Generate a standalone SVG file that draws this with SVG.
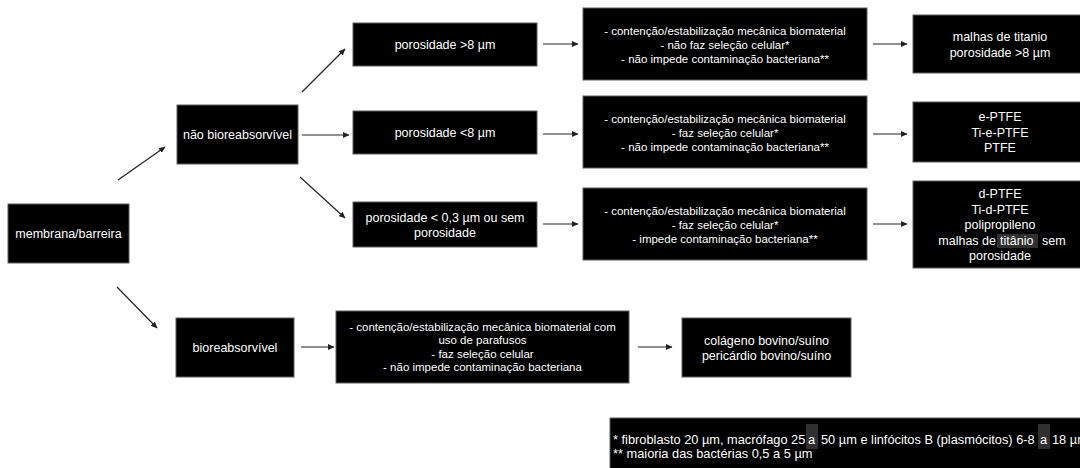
<svg xmlns="http://www.w3.org/2000/svg" width="1080" height="468" viewBox="0 0 1080 468">
<defs>
<marker id="ah" markerUnits="userSpaceOnUse" markerWidth="7" markerHeight="6" refX="6" refY="3" orient="auto">
<path d="M0,0 L6.5,3 L0,6 z" fill="#222"/>
</marker>
<style>
.box{fill:#000;stroke:#5e5e5e;stroke-width:1}
.t{font-family:"Liberation Sans",Arial,sans-serif;font-size:12.5px;fill:#fff;text-anchor:middle;dominant-baseline:central}
.s{font-family:"Liberation Sans",Arial,sans-serif;font-size:11.5px;fill:#fff;text-anchor:middle;dominant-baseline:central}
.f{font-family:"Liberation Sans",Arial,sans-serif;font-size:12.8px;fill:#fff;dominant-baseline:central}
.hl{fill:#303030}
.c line{stroke:#222;stroke-width:1.2;marker-end:url(#ah)}
</style>
</defs>
<rect width="1080" height="468" fill="#fff"/>

<g id="membrana"><rect class="box" x="8" y="204" width="121" height="59"/><text class="t" x="68.5" y="233.5">membrana/barreira</text></g>
<g id="nao-bio"><rect class="box" x="177" y="105" width="121" height="59"/><text class="t" x="237.5" y="134.5">não bioreabsorvível</text></g>
<g id="por-gt8"><rect class="box" x="353" y="23" width="184" height="43"/><text class="t" x="445" y="44.5">porosidade &gt;8 µm</text></g>
<g id="por-lt8"><rect class="box" x="353" y="111" width="184" height="43"/><text class="t" x="445" y="132.5">porosidade &lt;8 µm</text></g>
<g id="por-lt03"><rect class="box" x="353" y="202" width="184" height="45"/><text class="t" x="445" y="217.5">porosidade &lt; 0,3 µm ou sem</text><text class="t" x="445" y="232.5">porosidade</text></g>

<g id="mid1"><rect class="box" x="583" y="8" width="284" height="72"/>
<text class="s" x="725" y="31">- contenção/estabilização mecânica biomaterial</text>
<text class="s" x="725" y="45">- não faz seleção celular*</text>
<text class="s" x="725" y="59">- não impede contaminação bacteriana**</text></g>
<g id="mid2"><rect class="box" x="583" y="96" width="284" height="72"/>
<text class="s" x="725" y="119">- contenção/estabilização mecânica biomaterial</text>
<text class="s" x="725" y="133">- faz seleção celular*</text>
<text class="s" x="725" y="147">- não impede contaminação bacteriana**</text></g>
<g id="mid3"><rect class="box" x="583" y="188" width="284" height="72"/>
<text class="s" x="725" y="211">- contenção/estabilização mecânica biomaterial</text>
<text class="s" x="725" y="225">- faz seleção celular*</text>
<text class="s" x="725" y="239">- impede contaminação bacteriana**</text></g>

<g id="r1"><rect class="box" x="913" y="15" width="175" height="58"/>
<text class="t" x="1000" y="37">malhas de titanio</text>
<text class="t" x="1000" y="52.5">porosidade &gt;8 µm</text></g>
<g id="r2"><rect class="box" x="913" y="102" width="175" height="60"/>
<text class="t" x="1000" y="117">e-PTFE</text>
<text class="t" x="1000" y="132.5">Ti-e-PTFE</text>
<text class="t" x="1000" y="148">PTFE</text></g>
<g id="r3"><rect class="box" x="913" y="181" width="175" height="87"/>
<text class="t" x="1000" y="194">d-PTFE</text>
<text class="t" x="1000" y="209.5">Ti-d-PTFE</text>
<text class="t" x="1000" y="225">polipropileno</text>
<rect class="hl" x="997" y="234" width="41" height="14"/>
<text class="t" x="996" y="240.5" style="text-anchor:end">malhas de</text>
<text class="t" x="1000" y="240.5" style="text-anchor:start">titânio</text>
<text class="t" x="1042" y="240.5" style="text-anchor:start">sem</text>
<text class="t" x="1000" y="256">porosidade</text></g>

<g id="bio"><rect class="box" x="176" y="318" width="118" height="59"/><text class="t" x="235" y="347.5">bioreabsorvível</text></g>
<g id="mid4"><rect class="box" x="336" y="311" width="293" height="72"/>
<text class="s" x="482.5" y="326.5">- contenção/estabilização mecânica biomaterial com</text>
<text class="s" x="482.5" y="340">uso de parafusos</text>
<text class="s" x="482.5" y="353.5">- faz seleção celular</text>
<text class="s" x="482.5" y="367">- não impede contaminação bacteriana</text></g>
<g id="colageno"><rect class="box" x="682" y="318" width="169" height="59"/>
<text class="t" x="766.5" y="340.5">colágeno bovino/suíno</text>
<text class="t" x="766.5" y="355.5">pericárdio bovino/suíno</text></g>

<g id="footnote"><rect class="box" x="610" y="418" width="480" height="60"/>
<rect class="hl" x="806" y="424" width="12" height="25"/>
<rect class="hl" x="1038" y="424" width="12" height="25"/>
<text class="f" y="439"><tspan x="613">* fibroblasto 20 µm, macrófago 25</tspan><tspan x="808">a</tspan><tspan x="821">50 µm e linfócitos B (plasmócitos) 6-8</tspan><tspan x="1040">a</tspan><tspan x="1052">18 µm</tspan></text>
<text class="f" x="613" y="453">** maioria das bactérias 0,5 a 5 µm</text></g>

<g id="connectors" class="c">
<line x1="118" y1="180" x2="165" y2="147"/>
<line x1="117" y1="287" x2="157" y2="328"/>
<line x1="302" y1="92" x2="345" y2="49"/>
<line x1="302" y1="135" x2="349" y2="135"/>
<line x1="300" y1="177" x2="345" y2="218"/>
<line x1="543" y1="44" x2="578" y2="44"/>
<line x1="543" y1="134" x2="578" y2="134"/>
<line x1="543" y1="224" x2="578" y2="224"/>
<line x1="873" y1="44" x2="907" y2="44"/>
<line x1="873" y1="134" x2="907" y2="134"/>
<line x1="873" y1="224" x2="907" y2="224"/>
<line x1="301" y1="347" x2="334" y2="347"/>
<line x1="638" y1="347" x2="672" y2="347"/>
</g>
</svg>
